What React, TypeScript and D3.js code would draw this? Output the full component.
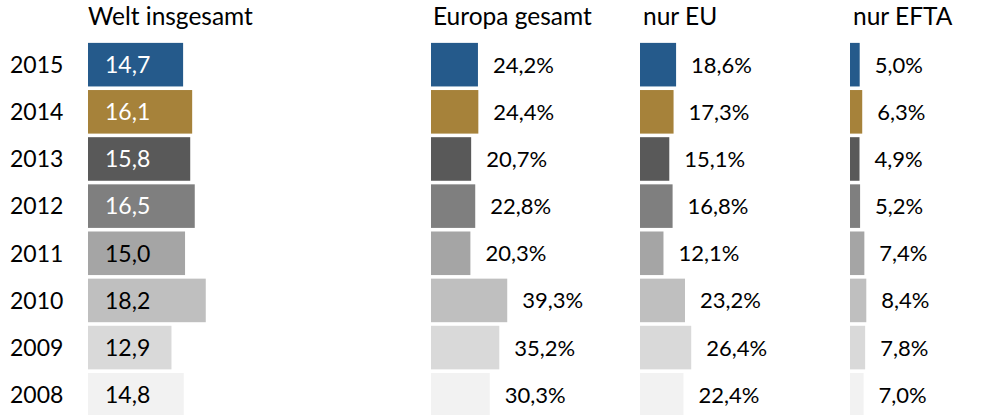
import React from 'react';
import * as d3 from 'd3';

// values
const years = ['2015', '2014', '2013', '2012', '2011', '2010', '2009', '2008'];
const welt = [14.7, 16.1, 15.8, 16.5, 15.0, 18.2, 12.9, 14.8];
const europa = [24.2, 24.4, 20.7, 22.8, 20.3, 39.3, 35.2, 30.3];
const nurEU = [18.6, 17.3, 15.1, 16.8, 12.1, 23.2, 26.4, 22.4];
const nurEFTA = [5.0, 6.3, 4.9, 5.2, 7.4, 8.4, 7.8, 7.0];
const panelTitles = ['Welt insgesamt', 'Europa gesamt', 'nur EU', 'nur EFTA'];

const colors = ['#255a8b', '#a6823a', '#595959', '#7f7f7f', '#a5a5a5', '#bfbfbf', '#d9d9d9', '#f2f2f2'];
const whiteText = [true, true, true, true, false, false, false, false];

const W = 996;
const H = 415;
const font = 'Lato, Carlito, Calibri, sans-serif';

const fmt = (v: number) => v.toFixed(1).replace('.', ',');

export default function App() {
  const y = d3.scaleBand<string>().domain(years).range([39.3, 420.1]).padding(0.076);
  const mid = (yr: string) => (y(yr) as number) + y.bandwidth() / 2;

  // Welt panel (absolute numbers)
  const xWelt = d3.scaleLinear().domain([0, 20]).range([88, 88 + 129.4]);

  // percent panels share one scale width, different start points
  const pctStarts = [431, 640, 850];
  const pctData = [europa, nurEU, nurEFTA];
  const pctScale = (x0: number) => d3.scaleLinear().domain([0, 40]).range([x0, x0 + 77.6]);

  return (
    <div style={{ position: 'absolute', left: 0, top: 0 }}>
      <svg width={W} height={H} style={{ display: 'block', background: '#fff' }} fontFamily={font}>
        {/* titles */}
        <text x={88} y={25} fontSize={24.5} fill="#000">{panelTitles[0]}</text>
        {pctStarts.map((x0, i) => (
          <text key={i} x={x0 + (i === 0 ? 2 : 3)} y={25} fontSize={24.5} fill="#000">{panelTitles[i + 1]}</text>
        ))}

        {/* year labels */}
        {years.map((yr) => (
          <text key={yr} x={10} y={mid(yr)} dy="0.36em" fontSize={23} fill="#000">{yr}</text>
        ))}

        {/* Welt bars */}
        {welt.map((v, i) => {
          const yr = years[i];
          return (
            <g key={'w' + yr}>
              <rect x={xWelt(0)} y={y(yr)} width={xWelt(v) - xWelt(0)} height={y.bandwidth()} fill={colors[i]} />
              <text x={xWelt(0) + 17} y={mid(yr)} dy="0.36em" fontSize={23}
                fill={whiteText[i] ? '#fff' : '#000'}>{fmt(v)}</text>
            </g>
          );
        })}

        {/* percent panels */}
        {pctData.map((vals, p) => {
          const x = pctScale(pctStarts[p]);
          return (
            <g key={'p' + p}>
              {vals.map((v, i) => {
                const yr = years[i];
                return (
                  <g key={yr}>
                    <rect x={x(0)} y={y(yr)} width={x(v) - x(0)} height={y.bandwidth()} fill={colors[i]} />
                    <text x={x(v) + 15} y={mid(yr)} dy="0.36em" fontSize={22} fill="#000">{fmt(v)}%</text>
                  </g>
                );
              })}
            </g>
          );
        })}
      </svg>
    </div>
  );
}
